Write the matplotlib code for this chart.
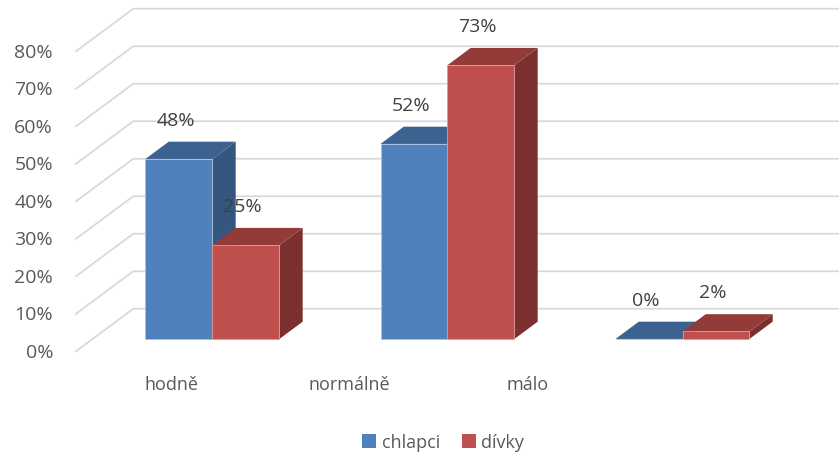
import matplotlib.pyplot as plt
from matplotlib.patches import Polygon, Patch

categories = ['hodně', 'normálně', 'málo']
series = ['chlapci', 'dívky']
chlapci = [48, 52, 0]
divky = [25, 73, 2]
y_ticks = [0, 10, 20, 30, 40, 50, 60, 70, 80]

front_cols = ['#4F81BD', '#C0504D']
top_cols = ['#3C628F', '#923B39']
side_cols = ['#34567F', '#7B302F']

plt.rcParams['font.family'] = ['Open Sans', 'DejaVu Sans']

fig = plt.figure(figsize=(8.39, 4.56), dpi=100)
ax = fig.add_axes([0, 0, 1, 1])
ax.set_xlim(-0.83, 2.74)
ax.set_ylim(-27.5, 94.1)
ax.axis('off')

# fake 3d: floor depth from front plane to back wall
DX, DY = 0.247, 11.5
d0, d1 = 0.3, 0.7   # bar front / back depth
w = 0.285
x_axis = -0.51
x_right = 2.74


def pt(x, v, d):
    return (x + d * DX, v + d * DY)


# gridlines (front diagonal + back wall)
for t in y_ticks:
    ax.plot([x_axis, x_axis + DX, x_right], [t, t + DY, t + DY],
            color='#D9D9D9', lw=1.3, zorder=1, solid_capstyle='butt')
    ax.text(x_axis - 0.094, t, f'{t}%', ha='right', va='center',
            fontsize=14, color='#595959')

# bars
for i in range(len(categories)):
    for s, vals in enumerate([chlapci, divky]):
        v = vals[i]
        l = i - w + s * w
        r = l + w
        front = [pt(l, 0, d0), pt(r, 0, d0), pt(r, v, d0), pt(l, v, d0)]
        top = [pt(l, v, d0), pt(r, v, d0), pt(r, v, d1), pt(l, v, d1)]
        side = [pt(r, 0, d0), pt(r, 0, d1), pt(r, v, d1), pt(r, v, d0)]
        z = 3 + i * 2 + s
        ax.add_patch(Polygon(side, closed=True, fc=side_cols[s], ec='none', zorder=z))
        ax.add_patch(Polygon(top, closed=True, fc=top_cols[s], ec='none', zorder=z))
        ax.add_patch(Polygon(front, closed=True, fc=front_cols[s],
                             ec='#A9C0DE' if s == 0 else '#DA9A98', lw=0.6, zorder=z))
        ax.text((l + r) / 2 + 0.06, v + d0 * DY + 10.5, f'{v}%', ha='center', va='center',
                fontsize=14, color='#404040', zorder=20)

# category labels on the front edge
for i, cat in enumerate(categories):
    ax.text(-0.1 + 0.757 * i, -8.5, cat, ha='center', va='center',
            fontsize=13, color='#595959')

handles = [Patch(fc=c, ec='none', label=n) for c, n in zip(front_cols, series)]
ax.legend(handles=handles, loc='center', bbox_to_anchor=(0.528, 0.028), ncol=2,
          frameon=False, handlelength=0.8, handleheight=0.8, handletextpad=0.3,
          columnspacing=1.2, labelcolor='#595959', prop={'size': 13})

fig.savefig('out.png', dpi=100)
